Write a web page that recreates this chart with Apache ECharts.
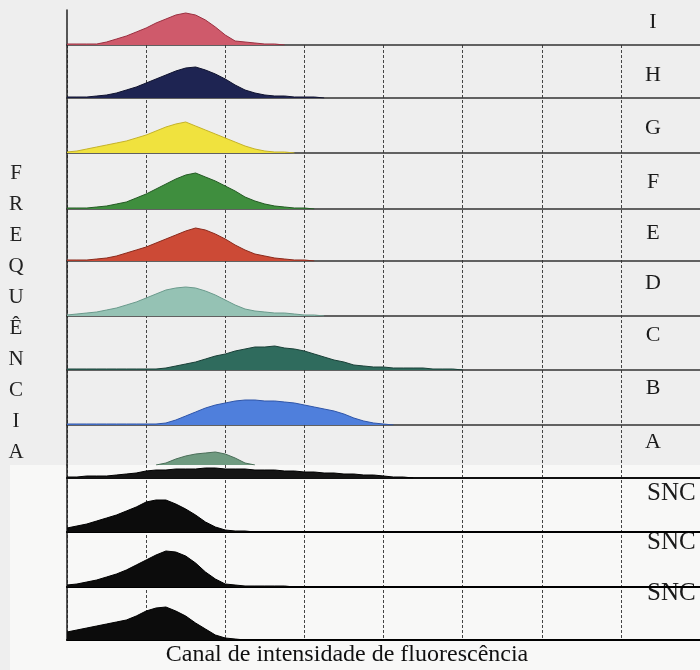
<!DOCTYPE html>
<html>
<head>
<meta charset="utf-8">
<script src="https://cdn.jsdelivr.net/npm/echarts@6/dist/echarts.min.js"></script>
<style>html,body{margin:0;padding:0;background:#eeeeee;}#c{width:700px;height:670px;}</style>
</head>
<body>
<div id="c"></div>
<script>
// Fluorescence channels (0..640, step 16)
const channels = [];
for (let c = 0; c <= 640; c += 16) channels.push(c);

const rowLabels = ['I','H','G','F','E','D','C','B','A','SNC','SNC','SNC'];
const yTitleLetters = ['F','R','E','Q','U','Ê','N','C','I','A'];
const xTitle = 'Canal de intensidade de fluorescência';
const xTicks = [0,128,256,384,512,640,768,896,1024];

// Histogram counts per row (one value per channel)
const histI = [1,1,1,1,3,6,9,13,17,22,26,30,32,30,25,18,10,4,3,2,1,1,0,0,0,0,0,0,0,0,0,0,0,0,0,0,0,0,0,0,0];
const histH = [1,1,1,2,3,5,8,11,15,19,23,27,30,31,28,24,19,13,8,5,3,2,2,1,1,1,0,0,0,0,0,0,0,0,0,0,0,0,0,0,0];
const histG = [1,2,4,6,8,10,12,15,18,22,26,29,31,27,23,19,15,11,7,4,2,1,1,0,0,0,0,0,0,0,0,0,0,0,0,0,0,0,0,0,0];
const histF = [1,1,1,2,3,5,7,11,15,20,25,30,34,36,32,28,23,18,12,8,5,3,2,1,1,0,0,0,0,0,0,0,0,0,0,0,0,0,0,0,0];
const histE = [1,1,1,2,3,5,8,11,14,18,22,26,30,33,31,27,22,16,11,7,5,3,2,1,1,0,0,0,0,0,0,0,0,0,0,0,0,0,0,0,0];
const histD = [1,2,3,4,6,8,11,14,18,22,26,28,29,28,25,21,16,11,7,5,4,3,3,2,1,1,0,0,0,0,0,0,0,0,0,0,0,0,0,0,0];
const histC = [1,1,1,1,1,1,1,1,1,1,2,4,6,8,11,14,16,19,21,23,23,24,22,21,19,16,13,10,8,5,4,3,3,2,2,2,2,1,1,1,0];
const histB = [1,1,1,1,1,1,1,1,1,1,2,5,9,13,17,20,22,24,25,25,24,24,23,22,20,18,16,14,11,7,4,2,1,0,0,0,0,0,0,0,0];
const histA = [0,0,0,0,0,0,0,0,0,0,2,6,9,11,12,13,11,7,2,0,0,0,0,0,0,0,0,0,0,0,0,0,0,0,0,0,0,0,0,0,0];
const histAband = [1,1,2,2,2,3,4,5,7,8,8,9,9,9,10,10,9,9,9,8,8,8,7,7,6,6,5,5,4,4,3,3,2,1,1,0,0,0,0,0,0];
const histSNC1 = [4,6,8,11,14,17,21,25,30,32,32,28,23,17,10,5,2,1,1,0,0,0,0,0,0,0,0,0,0,0,0,0,0,0,0,0,0,0,0,0,0];
const histSNC2 = [2,3,5,7,10,13,17,22,27,32,36,35,31,24,15,8,3,2,1,1,1,1,1,0,0,0,0,0,0,0,0,0,0,0,0,0,0,0,0,0,0];
const histSNC3 = [8,10,12,14,16,18,20,24,29,32,33,29,24,17,11,5,2,1,0,0,0,0,0,0,0,0,0,0,0,0,0,0,0,0,0,0,0,0,0,0,0];

const fills = ['#cf5a6b','#1e2452','#f0e23e','#3f8e3e','#cc4a36','#95c2b4','#2f6b5d','#4f7fdc','#6f9a80','#0c0c0c','#0c0c0c','#0c0c0c'];
const edges = ['#9a3040','#10132f','#c4b22a','#245a24','#8a2a1c','#6a9a8c','#1a4038','#2f55a8','#4a6e58','#000','#000','#000'];

const hists = [histI,histH,histG,histF,histE,histD,histC,histB,histA,histSNC1,histSNC2,histSNC3];

// ---- layout ----
const L = 67;
const baselines = [45,98,153,209,261,316,370,425,465,532,587,640];
const tops =      [10,45,98,153,209,261,316,370,425,478,532,587];
const labelY = [22,75,128,182,233,283,335,388,442,493,542,593];
const serif = "'Liberation Serif','DejaVu Serif',serif";

const grid = [], xAxis = [], yAxis = [], series = [];
// background grid for vertical grid lines
grid.push({left:L, right:0, top:45, bottom:30});
xAxis.push({gridIndex:0, type:'value', min:xTicks[0], max:xTicks[xTicks.length-1], interval:128,
  axisLine:{show:false}, axisTick:{show:false}, axisLabel:{show:false},
  splitLine:{show:true, lineStyle:{color:'#444', width:1, type:[3,2]}}});
yAxis.push({gridIndex:0, type:'value', min:0, max:1, axisLine:{show:false}, axisTick:{show:false}, axisLabel:{show:false}, splitLine:{show:false}});

function toPairs(data) {
  // keep the nonzero part of the histogram (plus one zero on each side)
  const out = [];
  for (let i = 0; i < channels.length; i++) {
    const near = data[i] > 0 || (i > 0 && data[i-1] > 0) || (i < data.length-1 && data[i+1] > 0);
    if (near) out.push([channels[i], data[i]]);
  }
  return out;
}

function addRow(top, base, data, fill, edge, showBase, baseColor, baseW) {
  const g = grid.length;
  const h = base - top;
  grid.push({left:L, right:0, top:top, height:h});
  xAxis.push({gridIndex:g, type:'value', min:0, max:1024, interval:128,
    axisLine:{show:showBase, onZero:false, lineStyle:{color:baseColor, width:baseW}},
    axisTick:{show:false}, axisLabel:{show:false}, splitLine:{show:false}});
  yAxis.push({gridIndex:g, type:'value', min:0, max:h,
    axisLine:{show:true, lineStyle:{color:'#222', width:1.5}},
    axisTick:{show:false}, axisLabel:{show:false}, splitLine:{show:false}});
  series.push({type:'line', xAxisIndex:g, yAxisIndex:g, z:3,
    data: toPairs(data),
    showSymbol:false, silent:true,
    lineStyle:{color:edge, width:1},
    areaStyle:{color:fill, opacity:1}});
}

for (let i = 0; i < 12; i++) {
  const black = i >= 9;
  addRow(tops[i], baselines[i], hists[i], fills[i], edges[i], i !== 8, black ? '#000' : '#333', black ? 2 : 1.5);
  if (i === 8) {
    addRow(465, 478, histAband, '#151515', '#000', true, '#111', 2);
  }
}

const graphic = [];
graphic.push({type:'rect', z:-10, shape:{x:10, y:465, width:690, height:205}, style:{fill:'#f8f8f7'}});
rowLabels.forEach((t,i)=>{
  const snc = i >= 9;
  graphic.push({type:'text', x: snc ? 647 : 653, y: labelY[i],
    style:{text:t, font: (snc ? '25px ' : '22px ') + serif, fill:'#1a1a1a',
      textAlign: snc ? 'left' : 'center', textVerticalAlign:'middle'}});
});
yTitleLetters.forEach((t,i)=>{
  graphic.push({type:'text', x:16, y:173 + 31*i,
    style:{text:t, font:'21px ' + serif, fill:'#222', textAlign:'center', textVerticalAlign:'middle'}});
});
graphic.push({type:'text', x:347, y:655,
  style:{text:xTitle, font:'24px ' + serif, fill:'#111', textAlign:'center', textVerticalAlign:'middle'}});

const chart = echarts.init(document.getElementById('c'), null, {renderer:'canvas'});
chart.setOption({
  backgroundColor:'#eeeeee',
  animation:false,
  grid, xAxis, yAxis, series, graphic
});
</script>
</body>
</html>
